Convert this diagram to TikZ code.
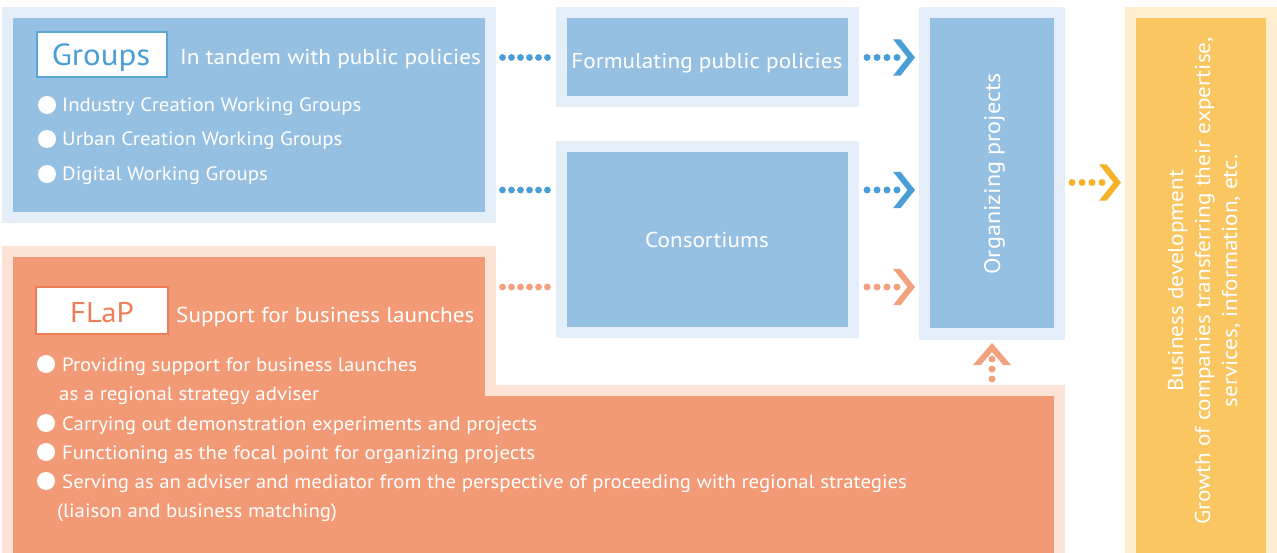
\documentclass[tikz,border=0pt]{standalone}
\usepackage{fontspec}
\setmainfont[FakeStretch=1.08]{PT Sans}
\usetikzlibrary{calc}
\definecolor{midblue}{HTML}{96C0E2}
\definecolor{lightblue}{HTML}{E4EEF8}
\definecolor{dotblue}{HTML}{4A9ED6}
\definecolor{boxorange}{HTML}{F29A76}
\definecolor{lightorange}{HTML}{FDE2D6}
\definecolor{dotorange}{HTML}{F3A07E}
\definecolor{flaporange}{HTML}{EE7C55}
\definecolor{boxyellow}{HTML}{F9C662}
\definecolor{lightyellow}{HTML}{FEEDCF}
\definecolor{dotyellow}{HTML}{F5B229}
\definecolor{labelblue}{HTML}{5AA5D7}
\newcommand\fsz[2]{\fontsize{#1}{#2}\selectfont}
% right-pointing chevron; #2 = point on the target's west side
\newcommand\rchevron[2]{\fill[#1] ($(#2)+(-26,-18.2)$) -- ($(#2)+(-18.5,-18.2)$) -- ($(#2)+(-4,0)$)
  -- ($(#2)+(-18.5,18.2)$) -- ($(#2)+(-26,18.2)$) -- ($(#2)+(-11.5,0)$) -- cycle;}
\begin{document}
\begin{tikzpicture}[x=1pt,y=-1pt,
  bluebox/.style={draw=lightblue, fill=midblue, line width=11pt, inner sep=0pt},
  txt/.style={text=white, inner sep=0pt, anchor=base west},
  ctxt/.style={text=white, inner sep=0pt, anchor=base},
  big/.style={font=\fsz{21.5}{26}},
  small/.style={font=\fsz{19.3}{23}},
  bul/.style={circle, fill=white, minimum size=18pt, inner sep=0pt},
  dotsA/.style={line width=6.8pt, line cap=round, dash pattern=on 0pt off 9pt},
  dotsB/.style={line width=7pt, line cap=round, dash pattern=on 0pt off 10pt},
]
\useasboundingbox (0,0) rectangle (1277,553);
\fill[white] (0,0) rectangle (1277,553);

% ---- boxes ----
\node[bluebox, minimum width=482.5pt, minimum height=205pt] (groups) at (248.75,115) {};
\node[bluebox, minimum width=292.5pt, minimum height=89pt] (form) at (707.25,57.5) {};
\node[bluebox, minimum width=292.5pt, minimum height=186pt] (cons) at (707.25,239.5) {};
\node[bluebox, minimum width=135pt, minimum height=321.5pt] (org) at (992,173.25) {};
\node[draw=lightyellow, fill=boxyellow, line width=11pt, inner sep=0pt,
      minimum width=141pt, minimum height=580pt] (biz) at (1201,302.5) {};

\filldraw[draw=lightorange, fill=boxorange, line width=11pt, line join=miter]
  (7,251.5) -- (490.5,251.5) -- (490.5,390.5) -- (1059.5,390.5)
  -- (1059.5,600) -- (7,600) -- cycle;
\path node[minimum width=494pt, minimum height=139pt, inner sep=0pt, outer sep=0pt] (flap) at (249,315.5) {};
\path node[minimum width=1063pt, minimum height=168pt, inner sep=0pt, outer sep=0pt] (flaplow) at (533.5,469) {};

% ---- Groups content ----
\node[draw=labelblue, fill=white, line width=2.5pt, minimum width=130pt, minimum height=45pt, inner sep=0pt] (glabel) at (102,54.5) {};
\node[ctxt, text=dotblue, font=\fsz{30.5}{36}] (gname) at (101,65.5) {Groups};
\node[txt, big] (gsub) at (180,65) {In tandem with public policies};
\node[bul] (gb1) at (47,105) {};
\node[txt, small] (gt1) at (62,111.5) {Industry Creation Working Groups};
\node[bul] (gb2) at (47,139) {};
\node[txt, small] (gt2) at (62,146) {Urban Creation Working Groups};
\node[bul] (gb3) at (47,174) {};
\node[txt, small] (gt3) at (62,181) {Digital Working Groups};

% ---- middle column texts ----
\node[ctxt, big] (formtxt) at (707,69) {Formulating public policies};
\node[ctxt, big] (constxt) at (707,248) {Consortiums};
\node[ctxt, font=\fsz{22.4}{27}, rotate=90] (orgtxt) at (1000,174) {Organizing projects};

% ---- business texts ----
\node[ctxt, font=\fsz{21.5}{27}, rotate=90] (biz1) at (1183,281) {Business development};
\node[ctxt, font=\fsz{21.5}{27}, rotate=90] (biz2) at (1210,281) {Growth of companies transferring their expertise,};
\node[ctxt, font=\fsz{21.5}{27}, rotate=90] (biz3) at (1237,281) {services, information, etc.};

% ---- FLaP content ----
\node[draw=flaporange, fill=white, line width=2.5pt, minimum width=132pt, minimum height=47pt, inner sep=0pt] (flabel) at (102,310.5) {};
\node[ctxt, text=flaporange, font=\fsz{28.5}{34}] (fname) at (102,323) {FLaP};
\node[txt, big] (fsub) at (176,323) {Support for business launches};
\node[bul] (fb1) at (46,364) {};
\node[txt, small] (ft1) at (62,371) {Providing support for business launches};
\node[txt, small] (ft1b) at (59,400) {as a regional strategy adviser};
\node[bul] (fb2) at (46,423) {};
\node[txt, small] (ft2) at (62,430) {Carrying out demonstration experiments and projects};
\node[bul] (fb3) at (46,452) {};
\node[txt, small] (ft3) at (62,459) {Functioning as the focal point for organizing projects};
\node[bul] (fb4) at (46,481) {};
\node[txt, small] (ft4) at (62,488) {Serving as an adviser and mediator from the perspective of proceeding with regional strategies};
\node[txt, small] (ft4b) at (57,517) {(liaison and business matching)};

% ---- connectors ----
\coordinate (yA) at (0,57.5);
\coordinate (yB) at (0,190);
\coordinate (yC) at (0,287);
\coordinate (yD) at (0,182.5);

\draw[dotsA, dotblue, shorten <=7pt, shorten >=7.9pt] (groups.east |- yA) -- (form.west |- yA);
\draw[dotsA, dotblue, shorten <=7pt, shorten >=7.9pt] (groups.east |- yB) -- (cons.west |- yB);
\draw[dotsA, dotorange, shorten <=6.5pt, shorten >=7.9pt] (flap.east |- yC) -- (cons.west |- yC);

\draw[dotsB, dotblue, shorten <=8pt, shorten >=21.9pt] (form.east |- yA) -- (org.west |- yA);
\rchevron{dotblue}{org.west |- yA}
\draw[dotsB, dotblue, shorten <=8pt, shorten >=21.9pt] (cons.east |- yB) -- (org.west |- yB);
\rchevron{dotblue}{org.west |- yB}
\draw[dotsB, dotorange, shorten <=8pt, shorten >=21.9pt] (cons.east |- yC) -- (org.west |- yC);
\rchevron{dotorange}{org.west |- yC}

\draw[dotsB, dotyellow, shorten <=7pt, shorten >=22.9pt] (org.east |- yD) -- (biz.west |- yD);
\rchevron{dotyellow}{biz.west |- yD}

\draw[dotsB, dotorange, shorten <=6pt, shorten >=19.3pt] (org.south |- flaplow.north) -- (org.south);
\fill[dotorange] ($(org.south)+(0,3.5)$) -- ($(org.south)+(19,25.5)$) -- ($(org.south)+(11.2,25.5)$)
  -- ($(org.south)+(0,12.5)$) -- ($(org.south)+(-11.2,25.5)$) -- ($(org.south)+(-19,25.5)$) -- cycle;
\end{tikzpicture}
\end{document}
